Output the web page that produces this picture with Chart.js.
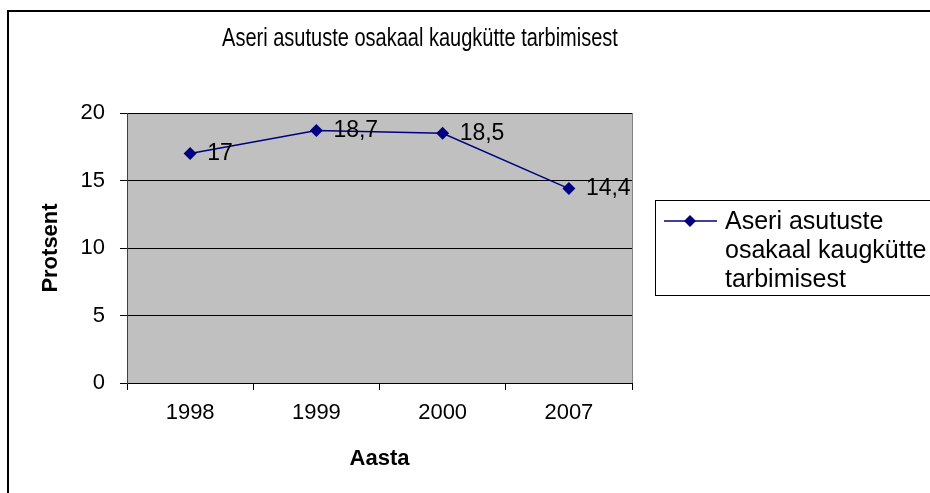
<!DOCTYPE html>
<html>
<head>
<meta charset="utf-8">
<script src="https://cdn.jsdelivr.net/npm/chart.js@4/dist/chart.umd.min.js"></script>
<style>
  body { margin: 0; background: #fff; }
  #wrap { width: 930px; height: 493px; }
</style>
</head>
<body>
<div id="wrap"><canvas id="myChart" width="930" height="493"></canvas></div>
<script>
const years = ['1998', '1999', '2000', '2007'];
const shares = [17, 18.7, 18.5, 14.4];
const yTicks = [0, 5, 10, 15, 20];
const titleText = 'Aseri asutuste osakaal kaugkütte tarbimisest';
const legendLines = ['Aseri asutuste', 'osakaal kaugkütte', 'tarbimisest'];

const fam = '"Liberation Sans", Arial, sans-serif';
const navy = '#000080';

// background, outer frame, grey plot area
const backPlugin = {
  id: 'back',
  beforeDraw(chart) {
    const c = chart.ctx;
    const a = chart.chartArea;
    c.save();
    c.fillStyle = '#fff';
    c.fillRect(0, 0, chart.width, chart.height);
    c.fillStyle = '#c0c0c0';
    c.fillRect(a.left, a.top, a.right - a.left, a.bottom - a.top);
    c.strokeStyle = '#000';
    c.lineWidth = 2;
    c.beginPath();
    c.moveTo(8, chart.height);
    c.lineTo(8, 11);
    c.lineTo(chart.width, 11);
    c.stroke();
    c.restore();
  },
  afterDraw(chart) {
    const c = chart.ctx;
    const a = chart.chartArea;
    c.save();
    // right edge of plot area
    c.strokeStyle = '#808080';
    c.lineWidth = 1;
    c.beginPath();
    c.moveTo(a.right + 0.5, a.top);
    c.lineTo(a.right + 0.5, a.bottom);
    c.stroke();

    // title (squeezed a bit, the original font is narrow)
    c.save();
    c.translate(420, 39);
    c.scale(0.8, 1);
    c.fillStyle = '#000';
    c.font = '25px ' + fam;
    c.textAlign = 'center';
    c.textBaseline = 'middle';
    c.fillText(titleText, 0, 0);
    c.restore();

    // legend
    c.strokeStyle = '#000';
    c.lineWidth = 1;
    c.strokeRect(655.5, 200.5, 300, 95);
    c.strokeStyle = navy;
    c.lineWidth = 1.5;
    c.beginPath();
    c.moveTo(664, 221);
    c.lineTo(717, 221);
    c.stroke();
    c.fillStyle = navy;
    c.beginPath();
    c.moveTo(690, 215);
    c.lineTo(696, 221);
    c.lineTo(690, 227);
    c.lineTo(684, 221);
    c.closePath();
    c.fill();
    c.fillStyle = '#000';
    c.font = '25px ' + fam;
    c.textAlign = 'left';
    c.textBaseline = 'alphabetic';
    legendLines.forEach((t, i) => c.fillText(t, 725, 229 + i * 29));
    c.restore();
  }
};

// value labels right of each point
const labelPlugin = {
  id: 'valLabels',
  afterDatasetsDraw(chart) {
    const c = chart.ctx;
    const meta = chart.getDatasetMeta(0);
    c.save();
    c.fillStyle = '#000';
    c.font = '23px ' + fam;
    c.textAlign = 'left';
    c.textBaseline = 'middle';
    meta.data.forEach((pt, i) => {
      c.fillText(String(shares[i]).replace('.', ','), pt.x + 17, pt.y);
    });
    c.restore();
  }
};

const ctx = document.getElementById('myChart').getContext('2d');
const myChart = new Chart(ctx, {
  type: 'line',
  data: {
    labels: years,
    datasets: [{
      label: legendLines.join(' '),
      data: shares,
      borderColor: navy,
      backgroundColor: navy,
      borderWidth: 1.5,
      pointStyle: 'rectRot',
      pointRadius: 6.5,
      pointBorderWidth: 0,
      tension: 0
    }]
  },
  options: {
    responsive: false,
    animation: false,
    layout: { padding: { top: 113, right: 298, left: 0, bottom: 0 } },
    plugins: {
      legend: { display: false },
      title: { display: false },
      tooltip: { enabled: false }
    },
    scales: {
      x: {
        offset: true,
        afterFit: (s) => { s.height = 110; },
        grid: { offset: true, drawOnChartArea: false, tickLength: 7, color: '#000' },
        border: { color: '#000' },
        ticks: { color: '#000', padding: 10, font: { family: fam, size: 22 } },
        title: {
          display: true, text: 'Aasta', color: '#000',
          padding: { top: 0, bottom: 21 },
          font: { family: fam, size: 22, weight: 'bold' }
        }
      },
      y: {
        min: 0,
        max: 20,
        afterFit: (s) => { s.width = 127; },
        afterBuildTicks: (s) => { s.ticks = yTicks.map(v => ({ value: v })); },
        grid: { color: '#000', tickLength: 7 },
        border: { color: '#404040' },
        ticks: { color: '#000', padding: 15, font: { family: fam, size: 22 } },
        title: {
          display: true, text: 'Protsent', color: '#000',
          padding: { top: 38, bottom: 0 },
          font: { family: fam, size: 22, weight: 'bold' }
        }
      }
    }
  },
  plugins: [backPlugin, labelPlugin]
});
</script>
</body>
</html>
